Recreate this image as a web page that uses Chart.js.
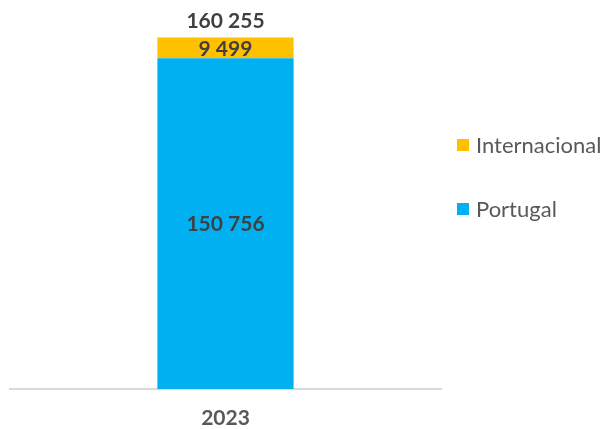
<!DOCTYPE html>
<html><head><meta charset="utf-8">
<script src="https://cdn.jsdelivr.net/npm/chart.js@4"></script>
<style>html,body{margin:0;padding:0;background:#fff}#w{width:607px;height:429px}</style>
</head><body><div id="w"><canvas id="c"></canvas></div>
<script>
const categories = ['2023'];
const portugal = [150756];
const internacional = [9499];
const totals = [160255];
const seriesNames = ['Portugal', 'Internacional'];

const fmt = v => String(v).replace(/\B(?=(\d{3})+(?!\d))/g, ' ');
const FONT = 'Lato, "Open Sans", sans-serif';

const labelsPlugin = {
  id: 'lbls',
  afterDatasetsDraw(chart) {
    const ctx = chart.ctx;
    ctx.save();
    ctx.fillStyle = '#404040';
    ctx.font = 'bold 21px ' + FONT;
    ctx.textAlign = 'center';
    ctx.textBaseline = 'middle';
    chart.data.datasets.forEach((ds, i) => {
      chart.getDatasetMeta(i).data.forEach((bar, j) => {
        const y = (bar.y + bar.base) / 2;
        ctx.fillText(fmt(ds.data[j]), bar.x, y + 1);
      });
    });
    const last = chart.getDatasetMeta(chart.data.datasets.length - 1);
    last.data.forEach((bar, j) => {
      ctx.fillText(fmt(totals[j]), bar.x, bar.y - 16);
    });
    // legend
    const items = [...chart.data.datasets].reverse();
    ctx.font = '22px ' + FONT;
    ctx.textAlign = 'left';
    items.forEach((ds, k) => {
      const cy = 145 + k * 64;
      ctx.fillStyle = ds.backgroundColor;
      ctx.fillRect(457, cy - 6, 12, 12);
      ctx.fillStyle = '#595959';
      ctx.fillText(ds.label, 476, cy + 1);
    });
    ctx.restore();
  }
};

new Chart(document.getElementById('c'), {
  type: 'bar',
  data: {
    labels: categories,
    datasets: [
      { label: seriesNames[0], data: portugal, backgroundColor: '#00B0F0', categoryPercentage: 1, barPercentage: 0.316 },
      { label: seriesNames[1], data: internacional, backgroundColor: '#FFC000', categoryPercentage: 1, barPercentage: 0.316 }
    ]
  },
  options: {
    responsive: true,
    maintainAspectRatio: false,
    animation: false,
    layout: { padding: { left: 10, right: 166, top: 16, bottom: -11 } },
    plugins: { legend: { display: false }, tooltip: { enabled: false } },
    scales: {
      x: {
        stacked: true,
        grid: { display: false },
        border: { display: true, color: '#D9D9D9', width: 2 },
        ticks: { color: '#595959', font: { family: FONT, size: 21, weight: 'bold', lineHeight: 1 }, padding: 11 }
      },
      y: { stacked: true, display: false, min: 0, max: 170000 }
    }
  },
  plugins: [labelsPlugin]
});
</script></body></html>
